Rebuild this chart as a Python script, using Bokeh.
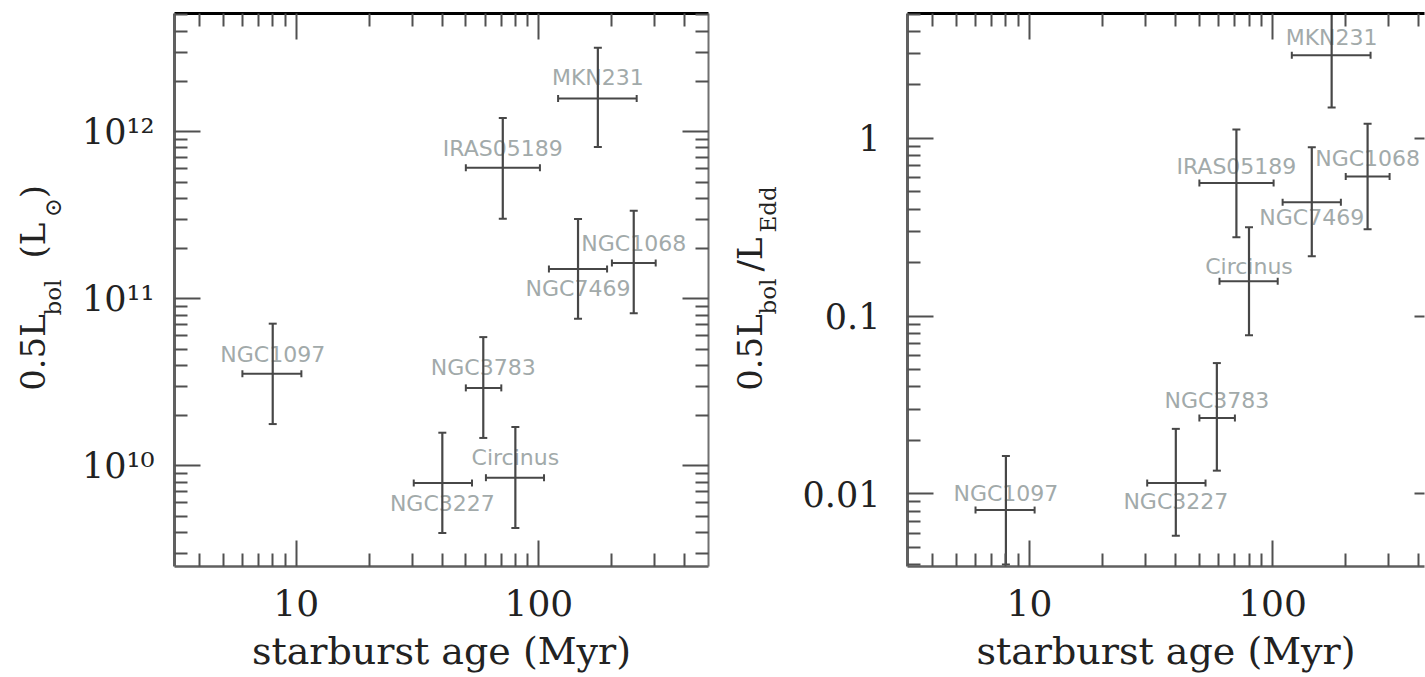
import math
from bokeh.plotting import figure
from bokeh.models import Range1d, FixedTicker, LogAxis, CustomJSTickFormatter
from bokeh.layouts import row
from bokeh.embed import file_html
from bokeh.resources import INLINE
from bokeh.core.properties import value

# ---------------- data ----------------
names = ["NGC1097", "NGC3227", "Circinus", "NGC3783", "IRAS05189", "NGC7469", "NGC1068", "MKN231"]
age_myr = [8.0, 40.0, 80.0, 59.0, 71.0, 145.0, 246.0, 175.0]
age_lo = [6.0, 30.5, 60.5, 50.0, 50.0, 110.0, 200.0, 120.0]
age_hi = [10.5, 53.0, 105.0, 70.0, 101.0, 191.0, 303.0, 253.0]

lbol_half = [3.56e10, 7.9e9, 8.5e9, 2.93e10, 6.08e11, 1.51e11, 1.64e11, 1.58e12]
lbol_lo = [1.78e10, 3.97e9, 4.25e9, 1.47e10, 3.01e11, 7.6e10, 8.2e10, 8.1e11]
lbol_hi = [7.1e10, 1.58e10, 1.71e10, 5.9e10, 1.21e12, 3.0e11, 3.37e11, 3.18e12]

edd_ratio = [0.0081, 0.0115, 0.157, 0.0267, 0.56, 0.437, 0.61, 2.93]
edd_lo = [0.0040, 0.0058, 0.078, 0.0135, 0.278, 0.217, 0.308, 1.49]
edd_hi = [0.0163, 0.0232, 0.316, 0.0544, 1.12, 0.89, 1.21, 5.8]

# tick values and labels
x_major_ticks = [10, 100]
x_tick_labels = ["10", "100"]
x_minor_ticks = [4, 5, 6, 7, 8, 9, 20, 30, 40, 50, 60, 70, 80, 90, 200, 300, 400]
yl_major_ticks = [1e10, 1e11, 1e12]
yl_tick_labels = ["10\u00b9\u2070", "10\u00b9\u00b9", "10\u00b9\u00b2"]
yl_minor_ticks = [k * 10.0 ** e for e in (9, 10, 11, 12) for k in range(2, 10)]
yr_major_ticks = [0.01, 0.1, 1.0]
yr_tick_labels = ["0.01", "0.1", "1"]
yr_minor_ticks = [k * 10.0 ** e for e in (-3, -2, -1, 0) for k in range(2, 10)]

x_title = "starburst age (Myr)"
# y titles as (text, is_subscript) pieces
y_title_left = [("0.5L", False), ("bol", True), ("(L", False), ("\u2299", True), (")", False)]
y_title_right = [("0.5L", False), ("bol", True), ("/L", False), ("Edd", True)]

# ---------------- layout / style ----------------
SERIF = "DejaVu Serif"
SANS = "DejaVu Sans"
INK = "#222222"
BAR = "#474747"
NAME_COLOR = "#a2aaaa"
X_START = 3.15
PX_DEC_X = 243.1
FIG_H = 677
FRAME_TOP = 13
FRAME_H = 553
FRAME_BOTTOM = FRAME_TOP + FRAME_H
BORDER_BOTTOM = FIG_H - FRAME_TOP - FRAME_H

# name-label vertical offsets in pixels (negative = above the point)
label_dy_left = [-19, 20, -20, -20, -19, 20, -19, -21]
label_dy_right = [-17, 18, -15, -18, -17, 15, -18, -18]

# y-title piece centres on the page (x, y)
ytitle_pos_left = [(32, 352), (52, 297), (32, 240), (52, 207), (32, 191)]
ytitle_pos_right = [(749, 352), (767, 296), (749, 254), (767, 209)]

STRIP_L_W = 78
P1_W = 650
STRIP_R_W = 70
P2_W = 627


def labels_formatter(tvals, tlabels):
    return CustomJSTickFormatter(args=dict(tvals=tvals, tlabels=tlabels), code="""
        for (let i = 0; i < tvals.length; i++) {
            if (Math.abs(tick / tvals[i] - 1) < 1e-6) { return tlabels[i]; }
        }
        return "";
    """)


def style_axis(ax, ticks, minor, line_color, line_width):
    ax.ticker = FixedTicker(ticks=ticks, minor_ticks=minor)
    ax.axis_line_color = line_color
    ax.axis_line_width = line_width
    ax.major_tick_in = 26
    ax.major_tick_out = 0
    ax.minor_tick_in = 13
    ax.minor_tick_out = 0
    ax.major_tick_line_color = "#505050"
    ax.major_tick_line_width = 2
    ax.minor_tick_line_color = "#505050"
    ax.minor_tick_line_width = 2


def hidden_labels(ax):
    ax.formatter = CustomJSTickFormatter(code="return '';")
    ax.major_label_text_font_size = "0px"
    ax.major_label_standoff = 0
    ax.axis_label = None


def title_strip(width, page_left, pieces, positions):
    # the strip's frame is aligned with the neighbouring plot frames (rows align frames),
    # so its y range is expressed directly in page pixels of that frame
    t = figure(width=width, height=FIG_H, x_range=Range1d(0, width),
               y_range=Range1d(FRAME_BOTTOM, FRAME_TOP),
               output_backend="svg", toolbar_location=None,
               x_axis_location=None, y_axis_location=None,
               min_border=0, min_border_left=0, min_border_right=0,
               min_border_top=FRAME_TOP, min_border_bottom=BORDER_BOTTOM)
    t.outline_line_color = None
    t.grid.visible = False
    t.background_fill_color = "white"
    t.border_fill_color = "white"
    for (txt, sub), (cx, cy) in zip(pieces, positions):
        t.text(x=[cx - page_left], y=[cy], text=[txt], angle=math.pi / 2,
               text_font=value(SERIF), text_font_size="23px" if sub else "34px",
               text_color=INK, text_align="center", text_baseline="middle")
    return t


def build(width, b_left, b_right, frame_w, y_start, y_end,
          yvals, ylo, yhi, dy, ymaj, ymin, ylabels, y_standoff, right_minor=True):
    x_end = X_START * 10 ** (frame_w / PX_DEC_X)
    px_dec_y = FRAME_H / math.log10(y_end / y_start)

    p = figure(width=width, height=FIG_H, x_axis_type="log", y_axis_type="log",
               x_range=Range1d(X_START, x_end), y_range=Range1d(y_start, y_end),
               output_backend="svg", toolbar_location=None,
               min_border_left=b_left, min_border_right=b_right,
               min_border_top=FRAME_TOP, min_border_bottom=BORDER_BOTTOM)
    p.outline_line_color = None
    p.grid.visible = False
    p.background_fill_color = "white"
    p.border_fill_color = "white"

    xa = p.xaxis[0]
    style_axis(xa, x_major_ticks, x_minor_ticks, "#606060", 2.5)
    xa.formatter = labels_formatter(x_major_ticks, x_tick_labels)
    xa.major_label_text_font = SERIF
    xa.major_label_text_font_size = "36px"
    xa.major_label_text_color = INK
    xa.major_label_standoff = 23
    xa.axis_label = x_title
    xa.axis_label_text_font = SERIF
    xa.axis_label_text_font_size = "38px"
    xa.axis_label_text_font_style = "normal"
    xa.axis_label_text_color = INK
    xa.axis_label_standoff = 10

    ya = p.yaxis[0]
    style_axis(ya, ymaj, ymin, "#606060", 3)
    ya.formatter = labels_formatter(ymaj, ylabels)
    ya.major_label_text_font = SERIF
    ya.major_label_text_font_size = "35px"
    ya.major_label_text_color = INK
    ya.major_label_standoff = y_standoff
    ya.axis_label = None

    top = LogAxis()
    style_axis(top, x_major_ticks, x_minor_ticks, "black", 3)
    hidden_labels(top)
    p.add_layout(top, "above")

    right = LogAxis()
    style_axis(right, ymaj, ymin if right_minor else [], "#707070" if right_minor else None, 2)
    if not right_minor:
        right.major_tick_in = 10
    hidden_labels(right)
    p.add_layout(right, "right")

    # object names (drawn first so the error bars pass over them)
    label_y = [y * 10 ** (-d / px_dec_y) for y, d in zip(yvals, dy)]
    p.text(x=age_myr, y=label_y, text=names, text_font=value(SANS),
           text_font_size="22px", text_color=NAME_COLOR,
           text_align="center", text_baseline="middle")

    # error bars with caps
    p.segment(x0=age_lo, y0=yvals, x1=age_hi, y1=yvals, line_color=BAR, line_width=2)
    p.segment(x0=age_myr, y0=ylo, x1=age_myr, y1=yhi, line_color=BAR, line_width=2.2)
    p.scatter(x=age_lo + age_hi, y=yvals + yvals, marker="dash", angle=math.pi / 2,
              size=7, line_color=BAR, line_width=2)
    p.scatter(x=age_myr + age_myr, y=ylo + yhi, marker="dash",
              size=8, line_color=BAR, line_width=2)
    return p


tL = title_strip(STRIP_L_W, 0, y_title_left, ytitle_pos_left)
p1 = build(width=P1_W, b_left=173 - STRIP_L_W, b_right=20, frame_w=535,
           y_start=2.5e9, y_end=5.1e12, yvals=lbol_half, ylo=lbol_lo, yhi=lbol_hi,
           dy=label_dy_left, ymaj=yl_major_ticks, ymin=yl_minor_ticks,
           ylabels=yl_tick_labels, y_standoff=20)
strip_r_left = STRIP_L_W + P1_W
tR = title_strip(STRIP_R_W, strip_r_left, y_title_right, ytitle_pos_right)
p2 = build(width=P2_W, b_left=907 - strip_r_left - STRIP_R_W, b_right=1, frame_w=517,
           y_start=0.0039, y_end=5.04, yvals=edd_ratio, ylo=edd_lo, yhi=edd_hi,
           dy=label_dy_right, ymaj=yr_major_ticks, ymin=yr_minor_ticks,
           ylabels=yr_tick_labels, y_standoff=27, right_minor=False)

layout = row(tL, p1, tR, p2)
open("out.html", "w").write(file_html(layout, INLINE, title="starburst age"))
